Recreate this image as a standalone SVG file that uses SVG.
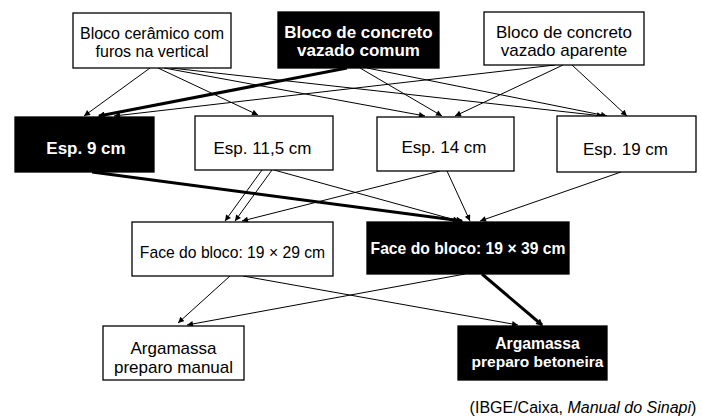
<svg xmlns="http://www.w3.org/2000/svg" width="702" height="419" viewBox="0 0 702 419">
<style>
.box{fill:#fff;stroke:#000;stroke-width:1.3}
.dark{fill:#000;stroke:#000;stroke-width:1.3}
text{font-family:"Liberation Sans",Arial,sans-serif;text-anchor:middle;fill:#000}
.w{fill:#fff;font-weight:bold}
.c{fill:none;stroke:#000;stroke-width:1}
.t{fill:none;stroke:#000;stroke-width:3}
</style>
<defs>
<marker id="ah" viewBox="0 0 10 10" refX="10" refY="5" markerWidth="7" markerHeight="6" markerUnits="userSpaceOnUse" orient="auto"><path d="M0,0 L10,5 L0,10 z" fill="#000"/></marker>
<marker id="ahT" viewBox="0 0 10 10" refX="8" refY="5" markerWidth="8" markerHeight="7" markerUnits="userSpaceOnUse" orient="auto"><path d="M0,0 L10,5 L0,10 z" fill="#000"/></marker>
</defs>
<rect width="702" height="419" fill="#fff"/>
<g id="connectors">
<line class="c" x1="150" y1="68" x2="84" y2="116" marker-end="url(#ah)"/>
<line class="c" x1="158" y1="68" x2="258" y2="115" marker-end="url(#ah)"/>
<line class="c" x1="164" y1="68" x2="425" y2="116" marker-end="url(#ah)"/>
<line class="c" x1="171" y1="68" x2="603" y2="116" marker-end="url(#ah)"/>
<line class="t" x1="347" y1="68" x2="99" y2="116" marker-end="url(#ahT)"/>
<line class="c" x1="360" y1="68" x2="442" y2="116" marker-end="url(#ah)"/>
<line class="c" x1="367" y1="68" x2="607" y2="116" marker-end="url(#ah)"/>
<line class="c" x1="555" y1="65" x2="114" y2="116" marker-end="url(#ah)"/>
<line class="c" x1="563" y1="65" x2="455" y2="116" marker-end="url(#ah)"/>
<line class="c" x1="572" y1="65" x2="627" y2="116" marker-end="url(#ah)"/>
<line class="t" x1="92" y1="172" x2="462" y2="221" marker-end="url(#ahT)"/>
<line class="c" x1="262" y1="170" x2="225" y2="221" marker-end="url(#ah)"/>
<line class="c" x1="272" y1="170" x2="235" y2="221" marker-end="url(#ah)"/>
<line class="c" x1="274" y1="170" x2="459" y2="221" marker-end="url(#ah)"/>
<line class="c" x1="440" y1="171" x2="242" y2="221" marker-end="url(#ah)"/>
<line class="c" x1="447" y1="171" x2="470" y2="221" marker-end="url(#ah)"/>
<line class="c" x1="621" y1="172" x2="480" y2="221" marker-end="url(#ah)"/>
<line class="c" x1="230" y1="276" x2="178" y2="323" marker-end="url(#ah)"/>
<line class="c" x1="243" y1="276" x2="518" y2="325" marker-end="url(#ah)"/>
<line class="c" x1="465" y1="274" x2="187" y2="325" marker-end="url(#ah)"/>
<line class="t" x1="482" y1="274" x2="542" y2="325" marker-end="url(#ahT)"/>
</g>
<g id="bloco-ceramico">
<rect class="box" x="73" y="13" width="158" height="55"/>
<text x="152" y="39.3" font-size="16">Bloco cerâmico com</text>
<text x="152" y="57.3" font-size="16">furos na vertical</text>
</g>
<g id="bloco-concreto-comum">
<rect class="dark" x="278" y="12" width="161" height="56"/>
<text class="w" x="358.5" y="37.5" font-size="17">Bloco de concreto</text>
<text class="w" x="358.5" y="55.5" font-size="17">vazado comum</text>
</g>
<g id="bloco-concreto-aparente">
<rect class="box" x="484" y="12" width="160" height="53"/>
<text x="564" y="38.3" font-size="17">Bloco de concreto</text>
<text x="564" y="56" font-size="17">vazado aparente</text>
</g>
<g id="esp9">
<rect class="dark" x="15" y="117" width="139" height="55"/>
<text class="w" x="86" y="154.3" font-size="17">Esp. 9 cm</text>
</g>
<g id="esp11">
<rect class="box" x="195" y="116" width="138" height="54"/>
<text x="262.5" y="154" font-size="17">Esp. 11,5 cm</text>
</g>
<g id="esp14">
<rect class="box" x="377" y="117" width="137" height="54"/>
<text x="444" y="152.7" font-size="17">Esp. 14 cm</text>
</g>
<g id="esp19">
<rect class="box" x="557" y="116" width="139" height="56"/>
<text x="625.5" y="155.3" font-size="17">Esp. 19 cm</text>
</g>
<g id="face29">
<rect class="box" x="132" y="222" width="201" height="54"/>
<text x="232.5" y="258.3" font-size="15.7">Face do bloco: 19 × 29 cm</text>
</g>
<g id="face39">
<rect class="dark" x="367" y="222" width="202" height="52"/>
<text class="w" x="468" y="254.3" font-size="15.7">Face do bloco: 19 × 39 cm</text>
</g>
<g id="argamassa-manual">
<rect class="box" x="103" y="326" width="141" height="54"/>
<text x="173.5" y="354" font-size="17">Argamassa</text>
<text x="173.5" y="372.7" font-size="17">preparo manual</text>
</g>
<g id="argamassa-betoneira">
<rect class="dark" x="458" y="326" width="149" height="54"/>
<text class="w" x="537.5" y="349" font-size="15.7">Argamassa</text>
<text class="w" x="537.5" y="366.7" font-size="15.5">preparo betoneira</text>
</g>
<text x="583" y="413.3" font-size="16">(IBGE/Caixa, <tspan font-style="italic">Manual do Sinapi</tspan>)</text>
</svg>
